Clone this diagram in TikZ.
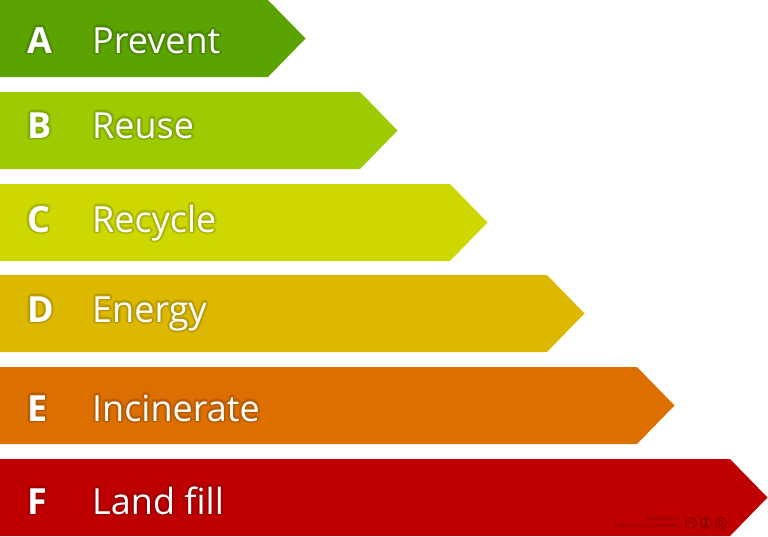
\documentclass[tikz,border=0pt]{standalone}
\usepackage{fontspec}
\setmainfont{Open Sans}
\definecolor{cA}{HTML}{5AA300}
\definecolor{cB}{HTML}{9BCB00}
\definecolor{cC}{HTML}{CDD800}
\definecolor{cD}{HTML}{DDB800}
\definecolor{cE}{HTML}{DD6E00}
\definecolor{cF}{HTML}{BE0000}
\definecolor{credit}{HTML}{7A0000}
\newcommand{\gcopy}[3]{\rlap{\hspace*{#1}\raisebox{#2}{#3}}}
\newcommand{\glowring}[3]{% distance, diagonal distance, text
  \gcopy{#1}{0pt}{#3}\gcopy{-#1}{0pt}{#3}\gcopy{0pt}{#1}{#3}\gcopy{0pt}{-#1}{#3}%
  \gcopy{#2}{#2}{#3}\gcopy{-#2}{#2}{#3}\gcopy{#2}{-#2}{#3}\gcopy{-#2}{-#2}{#3}}
\newcommand{\glowtxt}[2]{% bar colour, text
  {\color{#1!92!black}\glowring{2.6pt}{1.8pt}{#2}}%
  {\color{#1!84!black}\glowring{1.5pt}{1.05pt}{#2}}%
  {\color{#1!76!black}\gcopy{0.5pt}{-0.8pt}{#2}}%
  #2}
\tikzset{
  lettertxt/.style={anchor=base west,inner sep=0pt,text=white,font=\fontsize{36}{36}\selectfont\bfseries},
  labeltxt/.style={anchor=base west,inner sep=0pt,text=white,font=\fontsize{36}{36}\selectfont},
  creditxt/.style={anchor=base east,inner sep=0pt,text=credit,font=\fontsize{5}{5}\selectfont},
  ccicon/.style={circle,draw=credit,line width=0.8pt,minimum size=11pt,inner sep=0pt,text=credit,font=\fontsize{5}{5}\selectfont\bfseries}
}
\begin{document}
\begin{tikzpicture}[x=1pt,y=-1pt]
\useasboundingbox (0,0) rectangle (768,536);
% bars: top, bottom, rect end
\foreach \c/\t/\b/\e in {cA/0/77/268, cB/92/169/360, cC/184/261/450, cD/275/352/547, cE/367/444/637, cF/459/536/730}{
  \fill[\c] (0,\t) -- (\e,\t) -- ({\e+37.5},{(\t+\b)/2}) -- (\e,\b) -- (0,\b) -- cycle;
}
\node[lettertxt] (lA) at (27,53) {\glowtxt{cA}{A}};
\node[labeltxt] (tA) at (92,53) {\glowtxt{cA}{Prevent}};
\node[lettertxt] (lB) at (27,138) {\glowtxt{cB}{B}};
\node[labeltxt] (tB) at (92,138) {\glowtxt{cB}{Reuse}};
\node[lettertxt] (lC) at (27,232) {\glowtxt{cC}{C}};
\node[labeltxt] (tC) at (92,232) {\glowtxt{cC}{Recycle}};
\node[lettertxt] (lD) at (27,322) {\glowtxt{cD}{D}};
\node[labeltxt] (tD) at (92,322) {\glowtxt{cD}{Energy}};
\node[lettertxt] (lE) at (27,421) {\glowtxt{cE}{E}};
\node[labeltxt] (tE) at (92,421) {\glowtxt{cE}{Incinerate}};
\node[lettertxt] (lF) at (27,514) {\glowtxt{cF}{F}};
\node[labeltxt] (tF) at (92,514) {\glowtxt{cF}{Land fill}};
% credit
\node[creditxt] (cr1) at (679,520) {Maurits Korse};
\node[creditxt] (cr2) at (681,527) {http://mkor.se/sustainability};
\node[ccicon] (cc1) at (691,523) {cc};
\node[ccicon] (cc2) at (706,523) {};
\node[ccicon] (cc3) at (721,523) {};
\fill[credit] (706,519.5) circle (1pt);
\fill[credit] (704.8,521.3) rectangle (707.2,526.5);
\draw[credit,line width=0.7pt] (721,523) circle (2.2pt);
\end{tikzpicture}
\end{document}
